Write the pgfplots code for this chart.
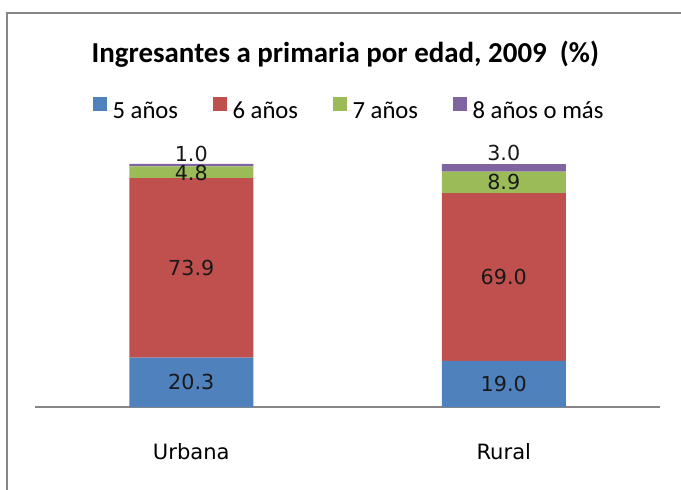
\documentclass[border=0pt]{standalone}
\usepackage{pgfplots}
\pgfplotsset{compat=1.18}
\usepackage{fontspec}
\setmainfont{Carlito}
\newfontfamily\tah{DejaVu Sans}
\definecolor{cblue}{HTML}{4F81BD}
\definecolor{cred}{HTML}{C0504D}
\definecolor{cgreen}{HTML}{9BBB59}
\definecolor{cpurple}{HTML}{8064A2}
\definecolor{cgrid}{HTML}{868686}
\tikzset{dl/.style={font=\tah\fontsize{15.5}{18}\selectfont, text=black!90}}
\begin{document}
\begin{tikzpicture}
\useasboundingbox (0,0) rectangle (510.75pt,366.75pt);
\draw[cgrid, line width=1.1pt] (5.25pt,-5pt) -- (5.25pt,357pt) -- (520pt,357pt);
\node[anchor=base, font=\fontsize{21.7}{26}\selectfont\bfseries] at (259pt,320pt) {Ingresantes a primaria por edad, 2009\ \ (\%)};
\begin{axis}[
  at={(26.25pt,61.5pt)}, anchor=south west,
  scale only axis, width=468.75pt, height=182.25pt,
  ybar stacked, bar width=93pt,
  xmin=-0.5, xmax=1.5, ymin=0, ymax=100,
  hide y axis,
  axis x line*=bottom,
  x axis line style={cgrid, line width=1.2pt, -},
  xtick=data, xticklabels={Urbana,Rural},
  xtick style={draw=none},
  xticklabel style={anchor=center, yshift=-33.75pt, font=\tah\fontsize{15.8}{18}\selectfont},
  legend columns=4,
  legend style={at={(0.0922,1.18)}, anchor=south west, draw=none, fill=none,
    inner sep=0pt, outer sep=0pt, nodes={inner sep=0pt, outer sep=0pt},
    /tikz/column sep=0pt, font=\fontsize{18.5}{21}\selectfont},
  legend image code/.code={\fill[#1] (0pt,0pt) rectangle (10.5pt,10pt); \path (0pt,0pt) -- (15pt,0pt);},
  clip=false,
]
\addplot[fill=cblue, draw=none] coordinates {(0,20.3) (1,19.0)};
\addlegendentry{\makebox[75pt][l]{5 años}}
\addplot[fill=cred, draw=none] coordinates {(0,73.9) (1,69.0)};
\addlegendentry{\makebox[75pt][l]{6 años}}
\addplot[fill=cgreen, draw=none] coordinates {(0,4.8) (1,8.9)};
\addlegendentry{\makebox[75pt][l]{7 años}}
\addplot[fill=cpurple, draw=none] coordinates {(0,1.0) (1,3.0)};
\addlegendentry{8 años o más}
\coordinate (a1) at (axis cs:0,10.15);
\coordinate (a2) at (axis cs:0,57.25);
\coordinate (a3) at (axis cs:0,96.4);
\coordinate (a4) at (axis cs:0,104.2);
\coordinate (b1) at (axis cs:1,9.5);
\coordinate (b2) at (axis cs:1,53.5);
\coordinate (b3) at (axis cs:1,92.45);
\coordinate (b4) at (axis cs:1,104.5);
\end{axis}
\node[dl] at (a1) {20.3};
\node[dl] at (a2) {73.9};
\node[dl] at (a3) {4.8};
\node[dl] at (a4) {1.0};
\node[dl] at (b1) {19.0};
\node[dl] at (b2) {69.0};
\node[dl] at (b3) {8.9};
\node[dl] at (b4) {3.0};
\end{tikzpicture}
\end{document}
